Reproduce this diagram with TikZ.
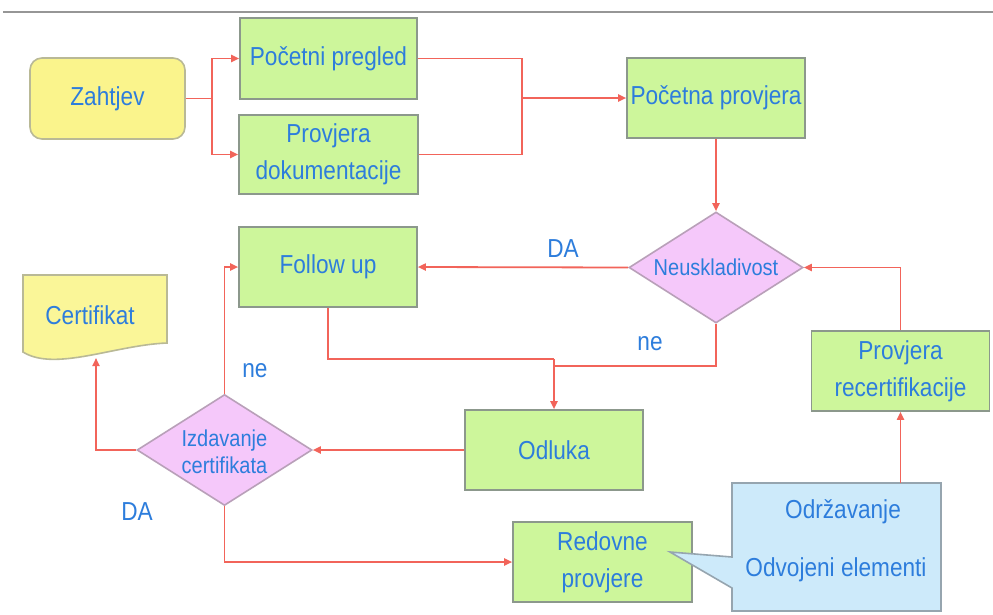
\documentclass[tikz,border=0pt]{standalone}
\usepackage{fontspec}
\setmainfont{Liberation Sans}[FakeStretch=0.87]
\usetikzlibrary{arrows.meta,shapes.geometric}

\definecolor{greenfill}{RGB}{205,246,155}
\definecolor{boxgray}{RGB}{140,152,140}
\definecolor{yellowfill}{RGB}{250,244,140}
\definecolor{certfill}{RGB}{250,246,152}
\definecolor{yellowborder}{RGB}{185,185,150}
\definecolor{pinkfill}{RGB}{245,200,250}
\definecolor{pinkborder}{RGB}{185,160,185}
\definecolor{bluefill}{RGB}{205,234,250}
\definecolor{blueborder}{RGB}{150,165,175}
\definecolor{textblue}{RGB}{45,125,220}
\definecolor{flowred}{RGB}{242,100,90}
\definecolor{topgray}{RGB}{150,150,150}

\newcommand\boxfont{\fontsize{26}{37}\selectfont}
\newcommand\smallboxfont{\fontsize{23}{27}\selectfont}

\begin{document}
\begin{tikzpicture}[x=1pt,y=-1pt,
  box/.style={draw=boxgray, line width=1.6pt, fill=greenfill,
    minimum width=178pt, minimum height=80pt, inner sep=0pt,
    align=center, font=\boxfont, text=textblue},
  decision/.style={diamond, draw=pinkborder, fill=pinkfill, line width=1.6pt,
    minimum width=175pt, minimum height=111pt, inner sep=0pt, aspect=1.58},
  dtext/.style={font=\smallboxfont, text=textblue, align=center, inner sep=0pt},
  lbl/.style={font=\boxfont, text=textblue, align=center, inner sep=0pt},
  flow/.style={draw=flowred, line width=1.8pt},
  arr/.style={flow, -{Triangle[length=8pt,width=7pt]}}]

\useasboundingbox (0,0) rectangle (993,614);
\fill[white] (0,0) rectangle (993,614);

% header rule
\draw[topgray, line width=1.2pt] (3,12) -- (993,12);

% process boxes
\node[box, fill=yellowfill, draw=yellowborder, rounded corners=12pt,
      minimum width=155pt, minimum height=81pt] (zahtjev) at (107.5,98.5) {Zahtjev};
\node[box, minimum width=177pt, minimum height=81pt] (pregled) at (328.5,58.5) {Početni pregled};
\node[box, minimum width=179pt, minimum height=79pt] (dokum) at (328.5,154.5) {Provjera\\dokumentacije};
\node[box] (pocetna) at (716,98) {Početna provjera};
\node[box] (followup) at (328,267) {Follow up};
\node[box] (odluka) at (554,450) {Odluka};
\node[box, minimum width=179pt] (redovne) at (602.5,562) {Redovne\\provjere};
\node[box] (recert) at (900.5,371) {Provjera\\recertifikacije};

% decisions
\node[decision, minimum width=174pt] (neusk) at (716,267.5) {};
\node[dtext] (neuskt) at (neusk.center) {Neuskladivost};
\node[decision] (izd) at (224.5,450) {};
\node[dtext] (izdt) at (224.5,452) {Izdavanje\\certifikata};

% certificate document
\path[fill=certfill, draw=yellowborder, line width=1.6pt]
  (23,275) -- (167,275) -- (167,343)
  .. controls (115,345) and (55,372) .. (23,352) -- cycle;
\node[lbl] (certifikat) at (90,315) {Certifikat};
\coordinate (certbot) at (96,358);

% callout
\path[fill=bluefill, draw=blueborder, line width=1.6pt]
  (732,483) -- (941,483) -- (941,611) -- (732,611) -- (732,588)
  -- (670,552) -- (732,557) -- cycle;
\node[minimum width=209pt, minimum height=128pt, inner sep=0pt] (callout) at (836.5,547) {};
\node[lbl] (odrz) at (843,512) {Održavanje};
\node[lbl] (odvoj) at (836,570) {Odvojeni elementi};

% connectors
\coordinate (fork) at (212,98.5);
\draw[flow] (zahtjev.east) -- (fork);
\draw[arr] (fork) |- (pregled.west);
\draw[arr] (fork) |- (dokum.west);

\coordinate (join) at (522,98);
\draw[flow] (pregled.east) -| (join) |- (dokum.east);
\draw[arr] (join) -- (pocetna.west);

\draw[arr] (pocetna.south) -- (neusk.north);
\draw[arr] (neusk.west) -- (followup.east);

\coordinate (merge) at (554,359);
\coordinate (merge2) at (554,366);
\draw[flow] (followup.south) |- (merge);
\draw[flow] (neusk.south) |- (merge2);
\draw[arr] (merge) -- (odluka.north);

\draw[arr] (odluka.west) -- (izd.east);
\draw[arr] (izd.north) |- (followup.west);
\draw[arr] (izd.west) -| (certbot);
\draw[arr] (izd.south) |- (redovne.west);

\draw[arr] (recert.south |- callout.north) -- (recert.south);
\draw[arr] (recert.north) |- (neusk.east);

% branch labels
\node[lbl] (da1) at (563,249) {DA};
\node[lbl] (ne1) at (650,344) {ne};
\node[lbl] (ne2) at (255,371) {ne};
\node[lbl] (da2) at (137,512) {DA};
\end{tikzpicture}
\end{document}
